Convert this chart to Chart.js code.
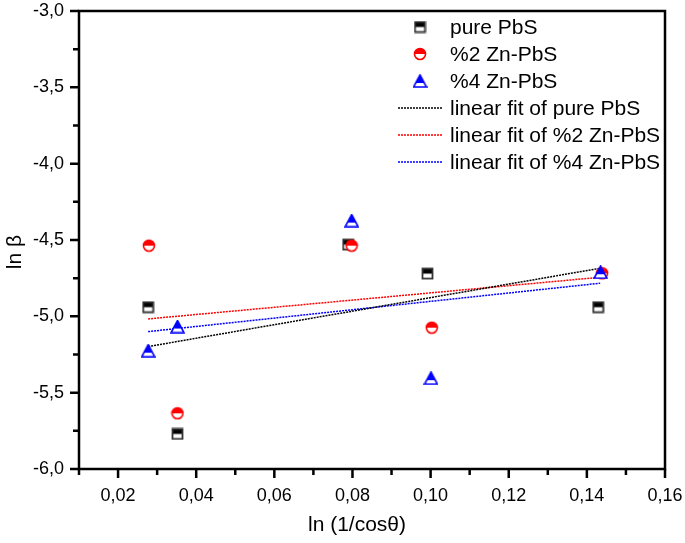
<!DOCTYPE html>
<html>
<head>
<meta charset="utf-8">
<script src="https://cdn.jsdelivr.net/npm/chart.js@4.4.1/dist/chart.umd.min.js"></script>
<style>
  html, body { margin: 0; padding: 0; background: #fff; }
  #wrap { width: 685px; height: 543px; }
</style>
</head>
<body>
<div id="wrap"><canvas id="chart"></canvas></div>
<script>
// values
const xPure = [0.0277, 0.0352, 0.0789, 0.0992, 0.1429];
const yPure = [-4.94, -5.77, -4.53, -4.72, -4.94];
const xZn2 = [0.0279, 0.0352, 0.0798, 0.1003, 0.1439];
const yZn2 = [-4.537, -5.635, -4.537, -5.074, -4.718];
const xZn4 = [0.0277, 0.0352, 0.0798, 0.1001, 0.1435];
const yZn4 = [-5.225, -5.067, -4.373, -5.405, -4.711];

const fitX = [0.0277, 0.1434];
const fitPure = [-5.198, -4.685];
const fitZn2 = [-5.017, -4.744];
const fitZn4 = [-5.100, -4.783];

const labels = ["pure PbS", "%2 Zn-PbS", "%4 Zn-PbS",
  "linear fit of pure PbS", "linear fit of %2 Zn-PbS", "linear fit of %4 Zn-PbS"];

const FONT = '"Liberation Sans", Arial, sans-serif';

function pts(xs, ys) {
  var out = [];
  for (var i = 0; i < xs.length; i++) out.push({x: xs[i], y: ys[i]});
  return out;
}

// half filled markers like the Origin ones
function makeSquare() {
  var c = document.createElement('canvas');
  c.width = 13; c.height = 13;
  var g = c.getContext('2d');
  g.fillStyle = '#fff'; g.fillRect(1.5, 1.5, 10, 10);
  g.fillStyle = '#000'; g.fillRect(1.5, 1.5, 10, 5);
  g.strokeStyle = '#333'; g.lineWidth = 1.8;
  g.strokeRect(1.5, 1.5, 10, 10);
  return c;
}
function makeCircle() {
  var c = document.createElement('canvas');
  c.width = 14; c.height = 14;
  var g = c.getContext('2d');
  g.fillStyle = '#fff';
  g.beginPath(); g.arc(7, 7, 5.5, 0, Math.PI * 2); g.fill();
  g.fillStyle = '#ff0000';
  g.beginPath(); g.arc(7, 7, 5.5, Math.PI, Math.PI * 2); g.closePath(); g.fill();
  g.strokeStyle = '#ff0000'; g.lineWidth = 1.6;
  g.beginPath(); g.arc(7, 7, 5.5, 0, Math.PI * 2); g.stroke();
  return c;
}
function makeTriangle() {
  var c = document.createElement('canvas');
  c.width = 15; c.height = 14;
  var g = c.getContext('2d');
  g.beginPath(); g.moveTo(7.5, 1); g.lineTo(14, 13); g.lineTo(1, 13); g.closePath();
  g.fillStyle = '#fff'; g.fill();
  g.save(); g.clip();
  g.fillStyle = '#0000ff'; g.fillRect(0, 0, 15, 9);
  g.restore();
  g.strokeStyle = '#0000ff'; g.lineWidth = 1.6;
  g.beginPath(); g.moveTo(7.5, 1); g.lineTo(14, 13); g.lineTo(1, 13); g.closePath(); g.stroke();
  return c;
}

const markers = [makeSquare(), makeCircle(), makeTriangle()];
const fitColors = ['#000000', '#ff0000', '#0000ff'];

// frame, ticks, titles and legend
const extras = {
  id: 'extras',
  afterDraw(chart) {
    const ctx = chart.ctx;
    const a = chart.chartArea;
    const xs = chart.scales.x, ys = chart.scales.y;
    ctx.save();
    ctx.strokeStyle = '#000';
    ctx.lineWidth = 2.5;
    ctx.strokeRect(a.left, a.top, a.right - a.left, a.bottom - a.top);
    ctx.beginPath();
    xs.ticks.forEach(function (t) {
      var px = xs.getPixelForValue(t.value);
      var major = Math.round(t.value * 100) % 2 === 0;
      ctx.moveTo(px, a.bottom);
      ctx.lineTo(px, a.bottom + (major ? 9 : 6));
    });
    ys.ticks.forEach(function (t) {
      var py = ys.getPixelForValue(t.value);
      var major = Math.round(t.value * 100) % 50 === 0;
      ctx.moveTo(a.left, py);
      ctx.lineTo(a.left - (major ? 9 : 6), py);
    });
    ctx.stroke();

    // axis titles
    ctx.fillStyle = '#000';
    ctx.font = '21px ' + FONT;
    ctx.textAlign = 'center';
    ctx.textBaseline = 'middle';
    ctx.fillText('ln (1/cosθ)', 357, 525);
    ctx.save();
    ctx.translate(15, 252);
    ctx.rotate(-Math.PI / 2);
    ctx.fillText('ln β', 0, 0);
    ctx.restore();

    // legend
    ctx.font = '21px ' + FONT;
    ctx.textAlign = 'left';
    for (var i = 0; i < labels.length; i++) {
      var y = 27 + 27 * i;
      if (i < 3) {
        var m = markers[i];
        ctx.drawImage(m, 420 - m.width / 2, y - m.height / 2);
      } else {
        ctx.save();
        ctx.strokeStyle = fitColors[i - 3];
        ctx.lineWidth = 1.5;
        ctx.setLineDash([2, 1]);
        ctx.beginPath();
        ctx.moveTo(398, y);
        ctx.lineTo(443, y);
        ctx.stroke();
        ctx.restore();
      }
      ctx.fillStyle = '#000';
      ctx.fillText(labels[i], 450, y + 1);
    }
    ctx.restore();
  }
};

Chart.defaults.color = '#000';
Chart.defaults.font.family = FONT;

function fitSet(label, ys, color) {
  return {
    label: label,
    data: pts(fitX, ys),
    showLine: true,
    borderColor: color,
    borderWidth: 1.5,
    borderDash: [2, 1],
    pointRadius: 0,
    fill: false,
    order: 3
  };
}

function markSet(label, xs, ys, img, order) {
  return {
    label: label,
    data: pts(xs, ys),
    showLine: false,
    pointStyle: img,
    pointRadius: 5,
    pointHoverRadius: 5,
    order: order
  };
}

new Chart(document.getElementById('chart'), {
  type: 'scatter',
  data: {
    datasets: [
      markSet(labels[0], xPure, yPure, markers[0], 2),
      markSet(labels[1], xZn2, yZn2, markers[1], 1),
      markSet(labels[2], xZn4, yZn4, markers[2], 0),
      fitSet(labels[3], fitPure, '#000000'),
      fitSet(labels[4], fitZn2, '#ff0000'),
      fitSet(labels[5], fitZn4, '#0000ff')
    ]
  },
  options: {
    responsive: true,
    maintainAspectRatio: false,
    animation: false,
    events: [],
    layout: { padding: { left: 0, top: 11, right: 20, bottom: 0 } },
    plugins: { legend: { display: false }, tooltip: { enabled: false } },
    scales: {
      x: {
        type: 'linear',
        min: 0.01,
        max: 0.16,
        grid: { display: false },
        border: { display: false },
        ticks: {
          stepSize: 0.01,
          autoSkip: false,
          maxRotation: 0,
          padding: 8,
          font: { size: 18 },
          callback: function (v) {
            return Math.round(v * 100) % 2 === 0 ? v.toFixed(2).replace('.', ',') : '';
          }
        },
        afterFit: function (s) { s.height = 74; s.paddingLeft = 0; s.paddingRight = 0; }
      },
      y: {
        min: -6,
        max: -3,
        grid: { display: false },
        border: { display: false },
        ticks: {
          stepSize: 0.25,
          autoSkip: false,
          padding: 7,
          font: { size: 18 },
          callback: function (v) {
            return Math.round(v * 100) % 50 === 0 ? v.toFixed(1).replace('.', ',') : '';
          }
        },
        afterFit: function (s) { s.width = 79; s.paddingTop = 0; s.paddingBottom = 0; }
      }
    }
  },
  plugins: [extras]
});
</script>
</body>
</html>
